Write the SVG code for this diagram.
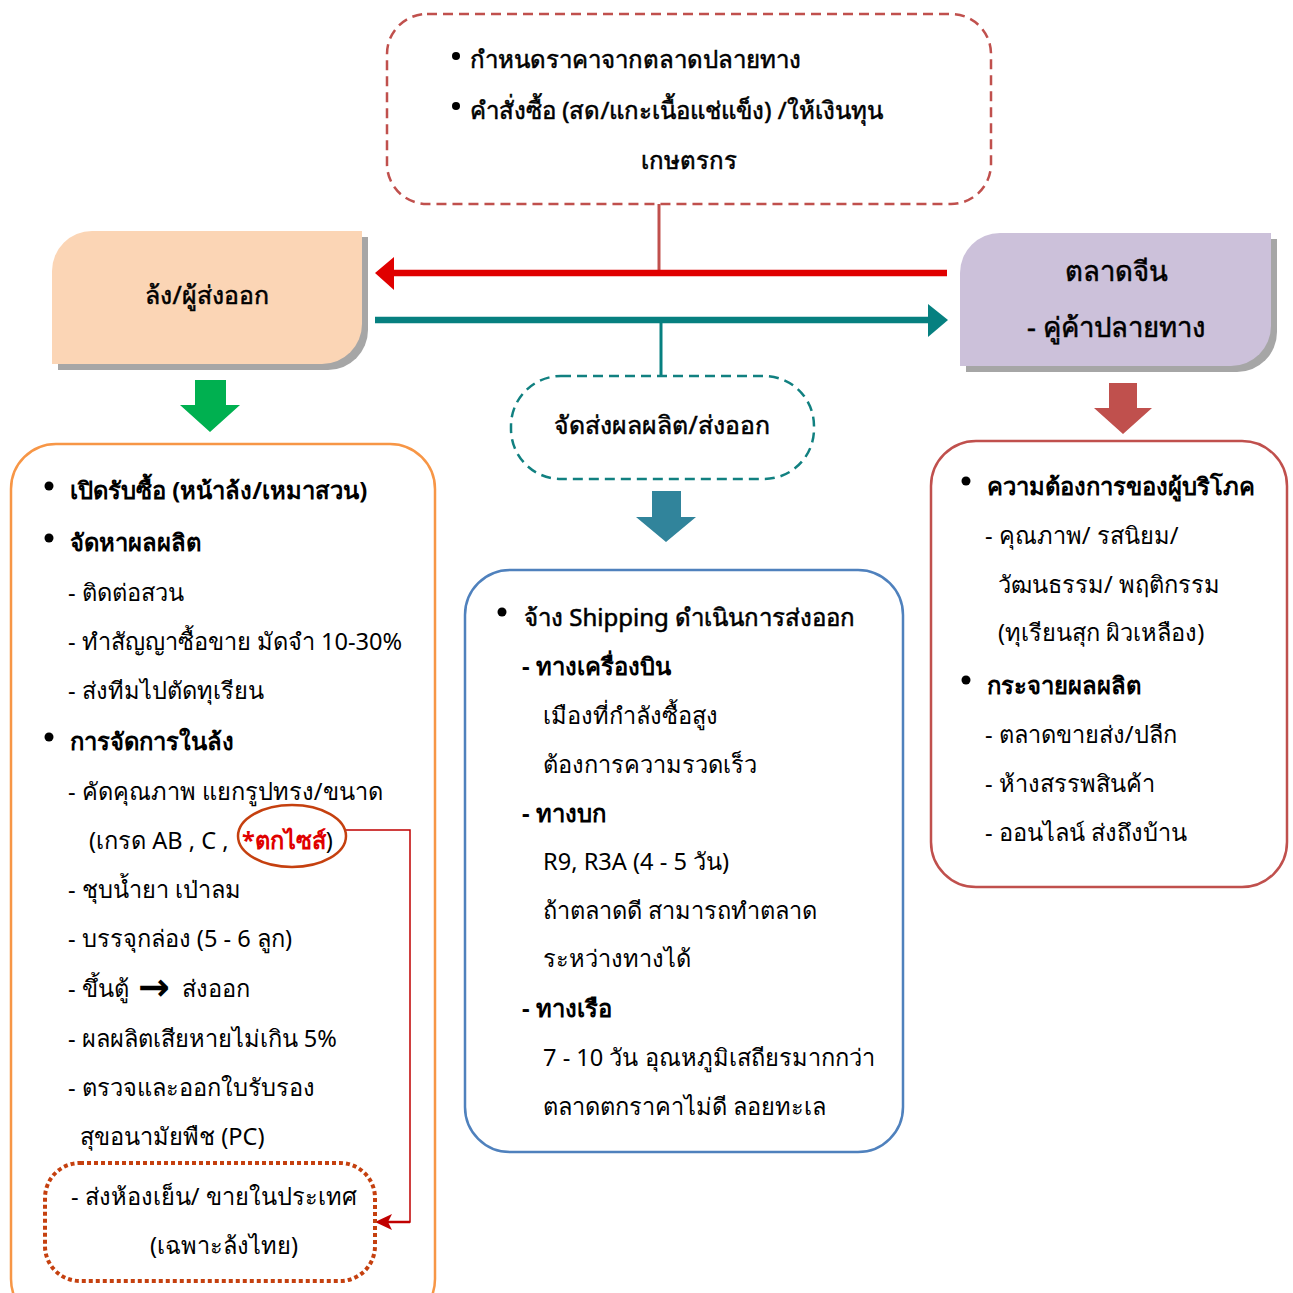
<svg xmlns="http://www.w3.org/2000/svg" width="1293" height="1293" viewBox="0 0 1293 1293">
  <defs>
    <style>
      text { font-family: "Noto Sans", "DejaVu Sans", sans-serif; font-size: 23.6px; fill: #000; }
      .b { font-weight: bold; font-size: 23.8px; }
      .m { stroke: #000; stroke-width: 0.55px; }
      .red { fill: #e00000; font-weight: bold; }
      .mid { text-anchor: middle; }
      .sym { font-family: "DejaVu Sans", sans-serif; font-weight: bold; font-size: 38px; }
      .s24 { font-size: 24px; }
      .s25 { font-size: 24.8px; }
      .s27 { font-size: 27.5px; }
    </style>
  </defs>

  <!-- connectors -->
  <g id="connectors">
    <line x1="659" y1="204" x2="659" y2="273" stroke="#c0504d" stroke-width="3"/>
    <line x1="947" y1="273" x2="390" y2="273" stroke="#e00000" stroke-width="6.5"/>
    <path d="M375,273 L394,257 L394,290 z" fill="#e00000"/>
    <line x1="375" y1="320" x2="930" y2="320" stroke="#068080" stroke-width="6.5"/>
    <path d="M948,320 L928,304 L928,337 z" fill="#068080"/>
    <line x1="661" y1="320" x2="661" y2="376" stroke="#068080" stroke-width="3"/>
    <!-- block arrows -->
    <path d="M195,380 H226 V405 H240 L210,432 L180,405 H195 z" fill="#00b050"/>
    <path d="M652,491 H681 V517 H696 L666,542 L636,517 H652 z" fill="#31849b"/>
    <path d="M1109,383 H1137 V408 H1152 L1123,434 L1094,408 H1109 z" fill="#c0504d"/>
    <!-- size-reject route to the domestic outlet -->
    <polyline points="346,830 410,830 410,1222 390,1222" fill="none" stroke="#c00000" stroke-width="1.5"/>
    <line x1="410" y1="1222" x2="388" y2="1222" stroke="#c00000" stroke-width="2.5"/>
    <path d="M375,1222 L392,1214 L388,1222 L392,1230 z" fill="#c00000"/>
  </g>

  <!-- top pricing box -->
  <g id="node-pricing">
    <rect x="387" y="14" width="604" height="190" rx="40" fill="#fff" stroke="#c0504d" stroke-width="2.5" stroke-dasharray="10 6"/>
    <circle cx="456" cy="56" r="4"/>
    <text x="470" y="68" class="m s24">กำหนดราคาจากตลาดปลายทาง</text>
    <circle cx="456" cy="106" r="4"/>
    <text x="470" y="119" class="m s24">คำสั่งซื้อ (สด/แกะเนื้อแช่แข็ง) /ให้เงินทุน</text>
    <text x="689" y="169" class="m mid s24">เกษตรกร</text>
  </g>

  <!-- exporter -->
  <g id="node-exporter">
    <path d="M98,237 H368 V330 A40,40 0 0 1 328,370 H58 V277 A40,40 0 0 1 98,237 z" fill="#a6a6a6"/>
    <path d="M92,231 H362 V324 A40,40 0 0 1 322,364 H52 V271 A40,40 0 0 1 92,231 z" fill="#fbd5b5"/>
    <text x="207" y="304" class="m mid s25">ล้ง/ผู้ส่งออก</text>
  </g>

  <!-- China market -->
  <g id="node-china">
    <path d="M1006,239 H1277 V332 A40,40 0 0 1 1237,372 H966 V279 A40,40 0 0 1 1006,239 z" fill="#a6a6a6"/>
    <path d="M1000,233 H1271 V326 A40,40 0 0 1 1231,366 H960 V273 A40,40 0 0 1 1000,233 z" fill="#ccc1da"/>
    <text x="1116" y="281" class="m mid s27">ตลาดจีน</text>
    <text x="1116" y="337" class="m mid s27">- คู่ค้าปลายทาง</text>
  </g>

  <!-- shipping label -->
  <g id="node-shipping-label">
    <rect x="511" y="376" width="303" height="103" rx="50" fill="#fff" stroke="#118080" stroke-width="2.5" stroke-dasharray="10 6"/>
    <text x="662" y="434" class="m mid s25">จัดส่งผลผลิต/ส่งออก</text>
  </g>

  <!-- exporter tasks -->
  <g id="node-exporter-tasks">
    <rect x="11" y="444" width="424" height="880" rx="45" fill="none" stroke="#f79646" stroke-width="2.5"/>
    <circle cx="49" cy="486" r="4.5"/>
    <text x="70" y="499" class="b">เปิดรับซื้อ (หน้าล้ง/เหมาสวน)</text>
    <circle cx="49" cy="538" r="4.5"/>
    <text x="70" y="551" class="b">จัดหาผลผลิต</text>
    <text x="68" y="601">- ติดต่อสวน</text>
    <text x="68" y="650">- ทำสัญญาซื้อขาย มัดจำ 10-30%</text>
    <text x="68" y="699">- ส่งทีมไปตัดทุเรียน</text>
    <circle cx="49" cy="737" r="4.5"/>
    <text x="70" y="750" class="b">การจัดการในล้ง</text>
    <text x="68" y="800">- คัดคุณภาพ แยกรูปทรง/ขนาด</text>
    <text x="89" y="849">(เกรด AB , C , <tspan x="242" class="red">*ตกไซส์</tspan>)</text>
    <ellipse cx="292" cy="836" rx="54" ry="31" fill="none" stroke="#c5400f" stroke-width="2.5"/>
    <text x="68" y="898">- ชุบน้ำยา เป่าลม</text>
    <text x="68" y="947">- บรรจุกล่อง (5 - 6 ลูก)</text>
    <text x="68" y="997">- ขึ้นตู้ <tspan x="138" y="1000" class="sym">→</tspan><tspan x="182" y="997">ส่งออก</tspan></text>
    <text x="68" y="1047">- ผลผลิตเสียหายไม่เกิน 5%</text>
    <text x="68" y="1096">- ตรวจและออกใบรับรอง</text>
    <text x="80" y="1145">สุขอนามัยพืช (PC)</text>
  </g>

  <!-- domestic outlet -->
  <g id="node-domestic">
    <rect x="45" y="1163" width="330" height="118" rx="35" fill="none" stroke="#c5400f" stroke-width="4" stroke-dasharray="4 3"/>
    <text x="71" y="1205">- ส่งห้องเย็น/ ขายในประเทศ</text>
    <text x="224" y="1254" class="mid">(เฉพาะล้งไทย)</text>
  </g>

  <!-- shipping detail -->
  <g id="node-shipping">
    <rect x="465" y="570" width="438" height="582" rx="45" fill="none" stroke="#4f81bd" stroke-width="2.5"/>
    <circle cx="502" cy="612" r="4.5"/>
    <text x="524" y="626" class="m s24">จ้าง Shipping ดำเนินการส่งออก</text>
    <text x="522" y="675" class="b">- ทางเครื่องบิน</text>
    <text x="543" y="724">เมืองที่กำลังซื้อสูง</text>
    <text x="543" y="773">ต้องการความรวดเร็ว</text>
    <text x="522" y="822" class="b">- ทางบก</text>
    <text x="543" y="870">R9, R3A (4 - 5 วัน)</text>
    <text x="543" y="919">ถ้าตลาดดี สามารถทำตลาด</text>
    <text x="543" y="967">ระหว่างทางได้</text>
    <text x="522" y="1017" class="b">- ทางเรือ</text>
    <text x="543" y="1066">7 - 10 วัน อุณหภูมิเสถียรมากกว่า</text>
    <text x="543" y="1115">ตลาดตกราคาไม่ดี ลอยทะเล</text>
  </g>

  <!-- consumer side -->
  <g id="node-consumer">
    <rect x="931" y="441" width="356" height="446" rx="45" fill="none" stroke="#c0504d" stroke-width="2.5"/>
    <circle cx="966" cy="481" r="4.5"/>
    <text x="987" y="495" class="b">ความต้องการของผู้บริโภค</text>
    <text x="985" y="544">- คุณภาพ/ รสนิยม/</text>
    <text x="998" y="593">วัฒนธรรม/ พฤติกรรม</text>
    <text x="998" y="641">(ทุเรียนสุก ผิวเหลือง)</text>
    <circle cx="966" cy="680" r="4.5"/>
    <text x="987" y="694" class="b">กระจายผลผลิต</text>
    <text x="985" y="743">- ตลาดขายส่ง/ปลีก</text>
    <text x="985" y="792">- ห้างสรรพสินค้า</text>
    <text x="985" y="841">- ออนไลน์ ส่งถึงบ้าน</text>
  </g>
</svg>
